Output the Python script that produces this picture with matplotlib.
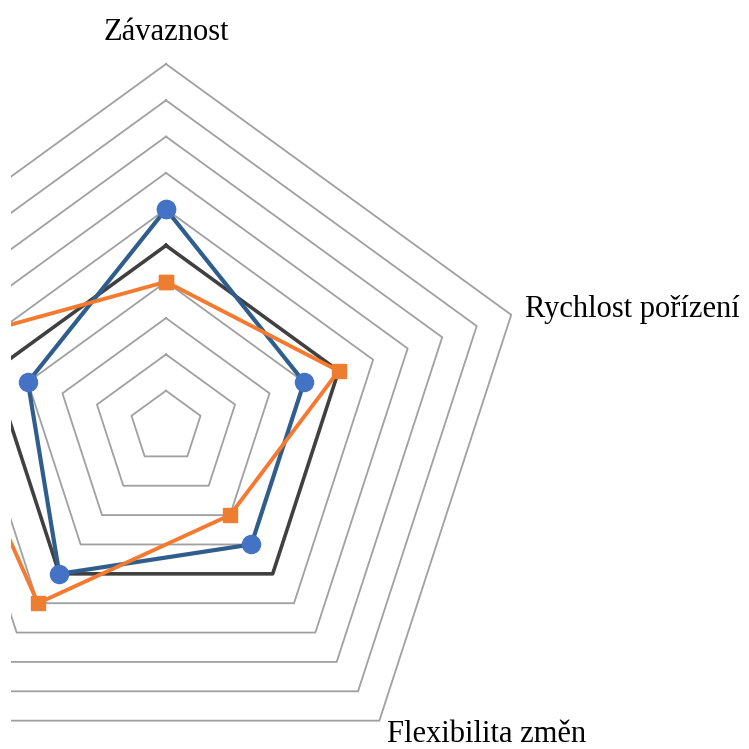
import numpy as np
import matplotlib.pyplot as plt
from matplotlib.transforms import Bbox, TransformedBbox

# data
categories = ["Závaznost", "Rychlost pořízení", "Flexibilita změn", "", ""]
blue_vals = [6, 4, 4, 5, 4]
black_vals = [5, 5, 5, 5, 5]
orange_vals = [4, 5, 3, 6, 7]
rings = [1, 2, 3, 4, 5, 6, 7, 8, 9, 10]

plt.rcParams['font.family'] = ['Liberation Serif', 'DejaVu Serif']

W = 749
fig = plt.figure(figsize=(W / 100, W / 100), dpi=100)
cx, cy, R = 166 / W, 1 - 427 / W, 363 / W
ax = fig.add_axes([cx - R, cy - R, 2 * R, 2 * R], projection='polar')
ax.set_theta_offset(np.pi / 2)
ax.set_theta_direction(-1)
ax.set_ylim(0, 10)
ax.axis('off')

n = len(categories)
ang = np.linspace(0, 2 * np.pi, n, endpoint=False)
ang_c = np.append(ang, ang[0])

# left edge of the plot area is cut off in the original
clip = TransformedBbox(Bbox.from_extents(11 / W, 0, 1, 1), fig.transFigure)

def closed(v):
    return np.append(v, v[0])

lines = []
for r in rings:
    lines += ax.plot(ang_c, [r] * (n + 1), color='#a0a0a0', lw=1.3, zorder=1)

lines += ax.plot(ang_c, closed(black_vals), color='#404040', lw=2.6, zorder=3)
lines += ax.plot(ang_c, closed(blue_vals), color='#2f5d8c', lw=3, marker='o',
                 ms=13, mfc='#4472c4', mec='#4472c4', zorder=4)
lines += ax.plot(ang_c, closed(orange_vals), color='#f47a30', lw=2.8, marker='s',
                 ms=10, mfc='#ed7d31', mec='#ed7d31', zorder=5)

for ln in lines:
    ln.set_clip_path(None)
    ln.set_clip_box(clip)

# category labels, placed relative to the outer ring vertex
fs = 22
offs = [(0, 24, 'center'), (14, -2, 'left'), (8, -21, 'left')]
for i, (dx, dy, ha) in enumerate(offs):
    ax.annotate(categories[i], xy=(ang[i], rings[-1]), xytext=(dx, dy),
                textcoords='offset pixels', ha=ha, va='baseline', fontsize=fs,
                annotation_clip=False)

fig.savefig('out.png', dpi=100)
